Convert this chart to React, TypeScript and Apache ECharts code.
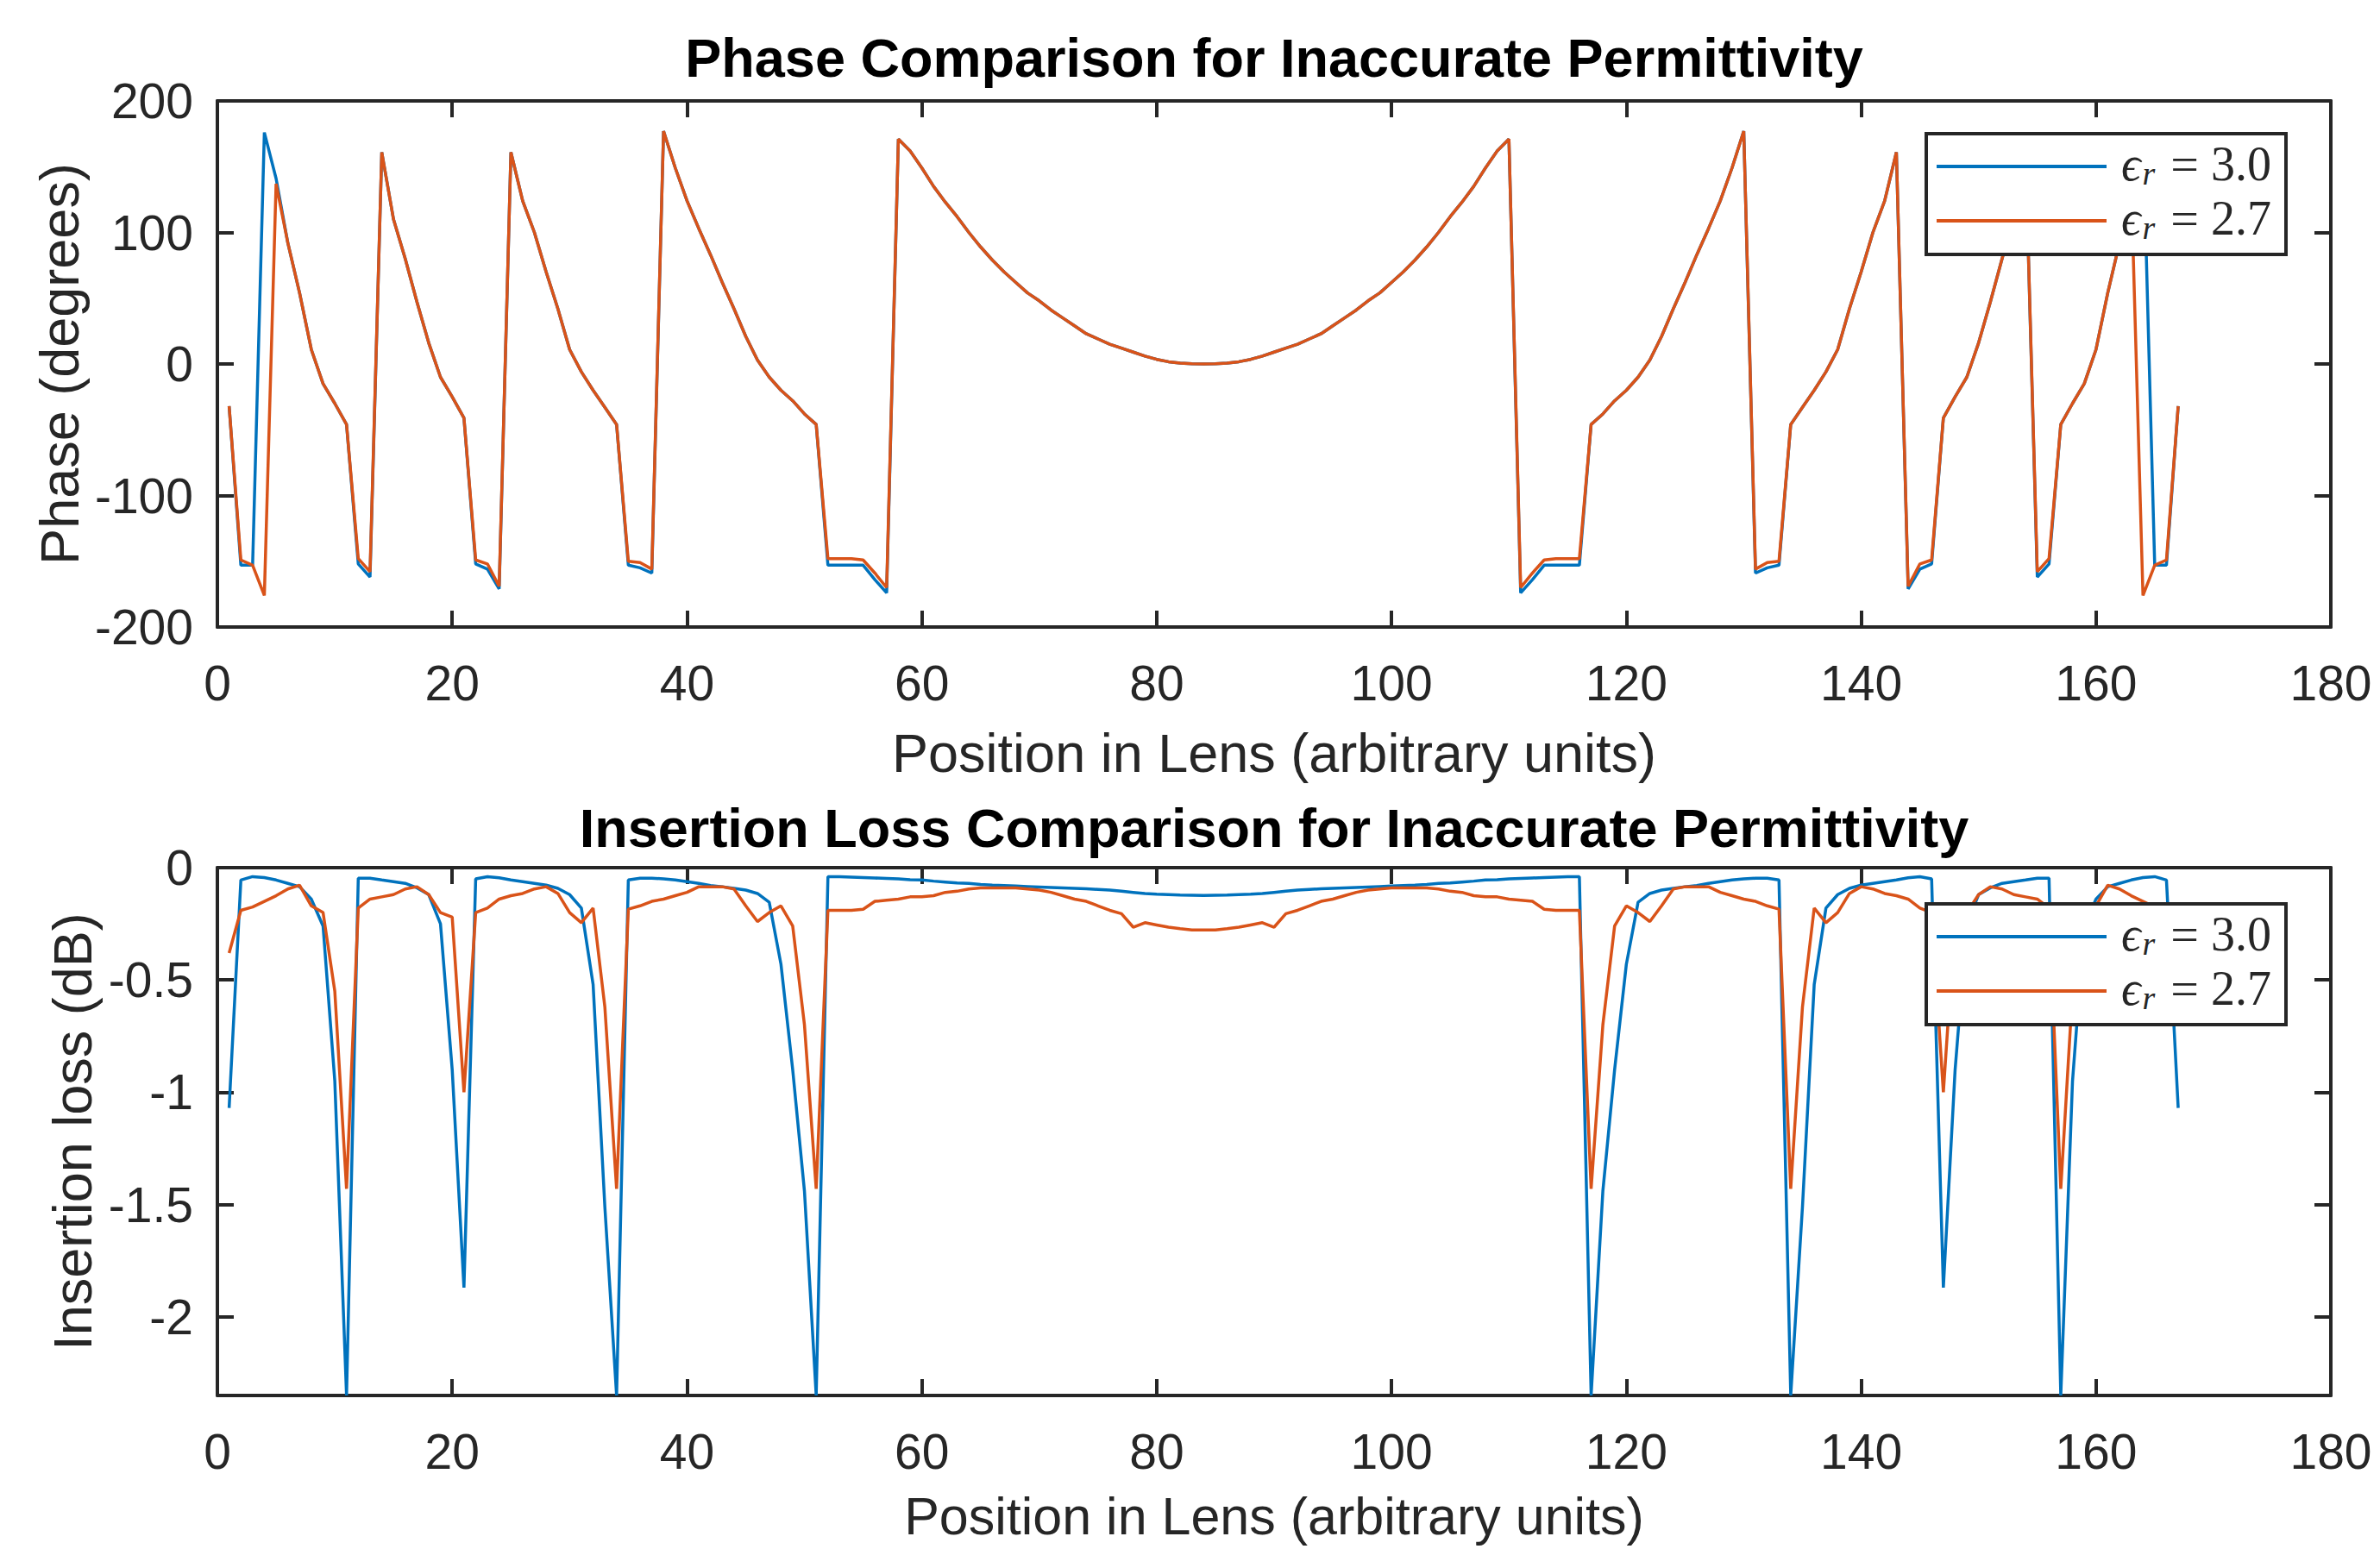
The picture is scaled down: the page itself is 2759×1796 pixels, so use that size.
import React, { useEffect, useRef } from "react";
import * as echarts from "echarts";

// ---------- data ----------
const positions: number[] = Array.from({ length: 167 }, (_, i) => i + 1);

const xTickValues = [0, 20, 40, 60, 80, 100, 120, 140, 160, 180];
const phaseTicks = [-200, -100, 0, 100, 200];
const lossTicks = [-2, -1.5, -1, -0.5, 0];
const lossMin = -2.35;

const seriesLabels = ["3.0", "2.7"];
const seriesNames = ["ϵr = 3.0", "ϵr = 2.7"];

const phaseEr30 = [
  -32, -153, -153, 176, 141, 92, 54, 11, -15, -30,
  -46, -152, -162, 161, 110, 80, 47, 16, -10, -25,
  -41, -152, -156, -171, 161, 124, 100, 70, 42, 11,
  -6, -20, -33, -46, -153, -155, -159, 177, 149, 124,
  103, 83, 62, 42, 21, 3, -10, -20, -28, -38,
  -46, -153, -153, -153, -153, -164, -174, 171, 162, 149,
  135, 123, 112, 100, 89, 79, 70, 62, 54, 48,
  41, 35, 29, 23, 19, 15, 12, 9, 6, 3.5,
  1.7, 0.7, 0.1, 0,
  0.1, 0.7, 1.7, 3.5, 6, 9, 12, 15, 19, 23,
  29, 35, 41, 48, 54, 62, 70, 79, 89, 100,
  112, 123, 135, 149, 162, 171, -174, -164, -153, -153,
  -153, -153, -46, -38, -28, -20, -10, 3, 21, 42,
  62, 83, 103, 124, 149, 177, -159, -155, -153, -46,
  -33, -20, -6, 11, 42, 70, 100, 124, 161, -171,
  -156, -152, -41, -25, -10, 16, 47, 80, 110, 161,
  -162, -152, -46, -30, -15, 11, 54, 92, 141, 176,
  -153, -153, -32,
];

const phaseEr27 = [
  -32, -149, -153, -176, 137, 92, 54, 11, -15, -30,
  -46, -148, -158, 161, 110, 80, 47, 16, -10, -25,
  -41, -149, -152, -169, 161, 124, 100, 70, 42, 11,
  -6, -20, -33, -46, -150, -151, -156, 177, 149, 124,
  103, 83, 62, 42, 21, 3, -10, -20, -28, -38,
  -46, -148, -148, -148, -149, -159, -170, 171, 162, 149,
  135, 123, 112, 100, 89, 79, 70, 62, 54, 48,
  41, 35, 29, 23, 19, 15, 12, 9, 6, 3.5,
  1.7, 0.7, 0.1, 0,
  0.1, 0.7, 1.7, 3.5, 6, 9, 12, 15, 19, 23,
  29, 35, 41, 48, 54, 62, 70, 79, 89, 100,
  112, 123, 135, 149, 162, 171, -170, -159, -149, -148,
  -148, -148, -46, -38, -28, -20, -10, 3, 21, 42,
  62, 83, 103, 124, 149, 177, -156, -151, -150, -46,
  -33, -20, -6, 11, 42, 70, 100, 124, 161, -169,
  -152, -149, -41, -25, -10, 16, 47, 80, 110, 161,
  -158, -148, -46, -30, -15, 11, 54, 92, 137, -176,
  -153, -149, -32,
];

const lossEr30 = [
  -1.07, -0.055, -0.04, -0.044, -0.055, -0.07, -0.085, -0.14, -0.26, -0.95,
  -2.35, -0.047, -0.047, -0.055, -0.062, -0.07, -0.09, -0.12, -0.25, -0.9,
  -1.87, -0.05, -0.04, -0.045, -0.055, -0.062, -0.07, -0.078, -0.092, -0.12,
  -0.18, -0.52, -1.51, -2.35, -0.055, -0.047, -0.047, -0.05, -0.055, -0.062,
  -0.07, -0.08, -0.085, -0.092, -0.1, -0.115, -0.154, -0.43, -0.9, -1.44,
  -2.35, -0.04, -0.04, -0.042, -0.044, -0.046, -0.048, -0.05, -0.054, -0.055,
  -0.06, -0.064, -0.068, -0.07, -0.075, -0.078, -0.08, -0.082, -0.084, -0.086,
  -0.088, -0.09, -0.092, -0.094, -0.097, -0.1, -0.105, -0.11, -0.115, -0.118,
  -0.12, -0.122, -0.123, -0.124,
  -0.123, -0.122, -0.12, -0.118, -0.115, -0.11, -0.105, -0.1, -0.097, -0.094,
  -0.092, -0.09, -0.088, -0.086, -0.084, -0.082, -0.08, -0.078, -0.075, -0.07,
  -0.068, -0.064, -0.06, -0.055, -0.054, -0.05, -0.048, -0.046, -0.044, -0.042,
  -0.04, -0.04, -2.35, -1.44, -0.9, -0.43, -0.154, -0.115, -0.1, -0.092,
  -0.085, -0.08, -0.07, -0.062, -0.055, -0.05, -0.047, -0.047, -0.055, -2.35,
  -1.51, -0.52, -0.18, -0.12, -0.092, -0.078, -0.07, -0.062, -0.055, -0.045,
  -0.04, -0.05, -1.87, -0.9, -0.25, -0.12, -0.09, -0.07, -0.062, -0.055,
  -0.047, -0.047, -2.35, -0.95, -0.26, -0.14, -0.085, -0.07, -0.055, -0.044,
  -0.04, -0.055, -1.07,
];

const lossEr27 = [
  -0.38, -0.19, -0.175, -0.15, -0.125, -0.095, -0.078, -0.17, -0.2, -0.55,
  -1.43, -0.18, -0.14, -0.13, -0.12, -0.095, -0.085, -0.12, -0.2, -0.22,
  -1.0, -0.2, -0.18, -0.14, -0.125, -0.115, -0.095, -0.085, -0.115, -0.2,
  -0.245, -0.18, -0.62, -1.43, -0.185, -0.17, -0.15, -0.14, -0.125, -0.11,
  -0.085, -0.085, -0.085, -0.095, -0.17, -0.24, -0.2, -0.17, -0.26, -0.7,
  -1.43, -0.19, -0.19, -0.19, -0.185, -0.15, -0.145, -0.14, -0.13, -0.13,
  -0.125, -0.11, -0.105, -0.095, -0.09, -0.09, -0.09, -0.09, -0.095, -0.1,
  -0.11, -0.125, -0.14, -0.15, -0.17, -0.19, -0.205, -0.265, -0.245, -0.255,
  -0.265, -0.272, -0.277, -0.277,
  -0.277, -0.272, -0.265, -0.255, -0.245, -0.265, -0.205, -0.19, -0.17, -0.15,
  -0.14, -0.125, -0.11, -0.1, -0.095, -0.09, -0.09, -0.09, -0.09, -0.095,
  -0.105, -0.11, -0.125, -0.13, -0.13, -0.14, -0.145, -0.15, -0.185, -0.19,
  -0.19, -0.19, -1.43, -0.7, -0.26, -0.17, -0.2, -0.24, -0.17, -0.095,
  -0.085, -0.085, -0.085, -0.11, -0.125, -0.14, -0.15, -0.17, -0.185, -1.43,
  -0.62, -0.18, -0.245, -0.2, -0.115, -0.085, -0.095, -0.115, -0.125, -0.14,
  -0.18, -0.2, -1.0, -0.22, -0.2, -0.12, -0.085, -0.095, -0.12, -0.13,
  -0.14, -0.18, -1.43, -0.55, -0.2, -0.17, -0.078, -0.095, -0.125, -0.15,
  -0.175, -0.19, -0.38,
];

// ---------- styling ----------
const BLUE = "#0072BD";
const ORANGE = "#D95319";
const AX = "#262626";
const SANS = "'Liberation Sans', Arial, Helvetica, sans-serif";
const SERIF = "'Liberation Serif', 'Times New Roman', serif";

const G_LEFT = 252;
const G_WIDTH = 2450;
const G1_TOP = 117;
const G1_H = 610;
const G2_TOP = 1006;
const G2_H = 612;
const CX = G_LEFT + G_WIDTH / 2;

const pairs = (v: number[]) => positions.map((x, i) => [x, v[i]]);

function xAxisCfg(gridIndex: number, position: "top" | "bottom", showLabel: boolean) {
  return {
    type: "value",
    gridIndex,
    position,
    min: xTickValues[0],
    max: xTickValues[xTickValues.length - 1],
    interval: xTickValues[1] - xTickValues[0],
    axisLine: { show: true, onZero: false, lineStyle: { color: AX, width: 4 } },
    axisTick: { show: true, inside: true, length: 19, lineStyle: { color: AX, width: 4 } },
    axisLabel: { show: showLabel, margin: 36, fontSize: 57, color: AX, fontFamily: SANS },
    splitLine: { show: false },
  };
}

function yAxisCfg(gridIndex: number, position: "left" | "right", showLabel: boolean, phase: boolean) {
  const base: any = {
    type: "value",
    gridIndex,
    position,
    axisLine: { show: true, onZero: false, lineStyle: { color: AX, width: 4 } },
    axisTick: { show: true, inside: true, length: 19, lineStyle: { color: AX, width: 4 } },
    axisLabel: { show: showLabel, margin: 28, fontSize: 57, color: AX, fontFamily: SANS },
    splitLine: { show: false },
  };
  if (phase) {
    base.min = phaseTicks[0];
    base.max = phaseTicks[phaseTicks.length - 1];
    base.interval = phaseTicks[1] - phaseTicks[0];
  } else {
    base.min = lossMin;
    base.max = lossTicks[lossTicks.length - 1];
    base.axisTick.customValues = lossTicks;
    base.axisLabel.customValues = lossTicks;
  }
  return base;
}

function legendGraphics(top: number) {
  const colors = [BLUE, ORANGE];
  const ys = [top + 38, top + 101];
  const els: any[] = [
    {
      type: "rect",
      z: 100,
      shape: { x: 2233, y: top, width: 417, height: 140 },
      style: { fill: "#fff", stroke: AX, lineWidth: 4 },
    },
  ];
  ys.forEach((y, i) => {
    els.push({
      type: "line",
      z: 101,
      shape: { x1: 2245, y1: y, x2: 2442, y2: y },
      style: { stroke: colors[i], lineWidth: 4 },
    });
    els.push({
      type: "text",
      z: 101,
      x: 2459,
      y: y - 3,
      style: {
        text: `{e|ϵ}{r|r}{q|=}{n|${seriesLabels[i]}}`,
        align: "left",
        verticalAlign: "middle",
        fill: AX,
        rich: {
          e: { fontFamily: SERIF, fontStyle: "italic", fontSize: 56, fill: AX, lineHeight: 66 },
          r: { fontFamily: SERIF, fontStyle: "italic", fontSize: 38, fill: AX, lineHeight: 44, padding: [22, 0, 0, 2] },
          q: { fontFamily: SERIF, fontSize: 58, fill: AX, lineHeight: 66, padding: [0, 14, 0, 18] },
          n: { fontFamily: SERIF, fontSize: 56, fill: AX, lineHeight: 66 },
        },
      },
    });
  });
  return els;
}

function textEl(text: string, x: number, y: number, size: number, bold: boolean, color: string, rotate = 0) {
  return {
    type: "text",
    z: 50,
    x,
    y,
    rotation: rotate,
    style: {
      text,
      fontFamily: SANS,
      fontSize: size,
      fontWeight: bold ? "bold" : "normal",
      fill: color,
      align: "center",
      verticalAlign: "middle",
    },
  };
}

const lineSeries = (name: string, xi: number, yi: number, values: number[], color: string, z: number) => ({
  type: "line",
  name,
  xAxisIndex: xi,
  yAxisIndex: yi,
  data: pairs(values),
  symbol: "none",
  showSymbol: false,
  clip: true,
  z,
  lineStyle: { color, width: 3.5 },
  itemStyle: { color },
});

const option: any = {
  animation: false,
  backgroundColor: "#ffffff",
  textStyle: { fontFamily: SANS },
  grid: [
    { left: G_LEFT, top: G1_TOP, width: G_WIDTH, height: G1_H, containLabel: false },
    { left: G_LEFT, top: G2_TOP, width: G_WIDTH, height: G2_H, containLabel: false },
  ],
  xAxis: [
    xAxisCfg(0, "bottom", true),
    xAxisCfg(0, "top", false),
    xAxisCfg(1, "bottom", true),
    xAxisCfg(1, "top", false),
  ],
  yAxis: [
    yAxisCfg(0, "left", true, true),
    yAxisCfg(0, "right", false, true),
    yAxisCfg(1, "left", true, false),
    yAxisCfg(1, "right", false, false),
  ],
  series: [
    lineSeries(seriesNames[0], 0, 0, phaseEr30, BLUE, 2),
    lineSeries(seriesNames[1], 0, 0, phaseEr27, ORANGE, 3),
    lineSeries(seriesNames[0], 2, 2, lossEr30, BLUE, 2),
    lineSeries(seriesNames[1], 2, 2, lossEr27, ORANGE, 3),
  ],
  graphic: [
    textEl("Phase Comparison for Inaccurate Permittivity", CX, 67, 63, true, "#000"),
    textEl("Position in Lens (arbitrary units)", CX, 873, 63, false, AX),
    textEl("Phase (degrees)", 69, G1_TOP + G1_H / 2, 63, false, AX, Math.PI / 2),
    textEl("Insertion Loss Comparison for Inaccurate Permittivity", CX, 960, 63, true, "#000"),
    textEl("Position in Lens (arbitrary units)", CX, 1758, 61, false, AX),
    textEl("Insertion loss (dB)", 84, G2_TOP + G2_H / 2, 63, false, AX, Math.PI / 2),
    ...legendGraphics(155),
    ...legendGraphics(1048),
  ],
};

export default function App() {
  const ref = useRef<HTMLDivElement>(null);
  useEffect(() => {
    if (!ref.current) return;
    const chart = echarts.init(ref.current, null, { renderer: "svg" });
    chart.setOption(option);
    return () => chart.dispose();
  }, []);
  return (
    <div
      ref={ref}
      style={{ position: "fixed", left: 0, top: 0, width: 2759, height: 1796, background: "#fff" }}
    />
  );
}
